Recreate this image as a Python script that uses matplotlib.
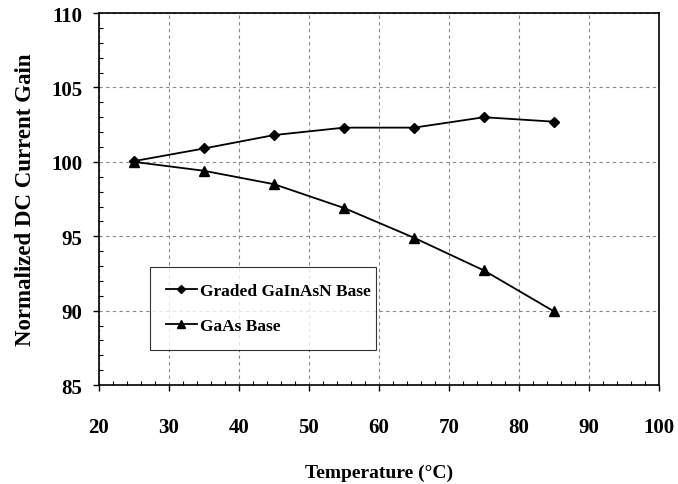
import matplotlib
matplotlib.use("Agg")
import matplotlib.pyplot as plt
from matplotlib.ticker import MultipleLocator

temps = [25, 35, 45, 55, 65, 75, 85]
graded = [100.05, 100.9, 101.8, 102.3, 102.3, 103.0, 102.7]
gaas = [100.0, 99.4, 98.5, 96.9, 94.9, 92.7, 89.95]
series_labels = ["Graded GaInAsN Base", "GaAs Base"]
xlabel = "Temperature (°C)"
ylabel = "Normalized DC Current Gain"

plt.rcParams['font.family'] = ['Liberation Serif', 'DejaVu Serif']

fig = plt.figure(figsize=(6.78, 4.85), dpi=100)
ax = fig.add_axes([0.146, 0.204, 0.826, 0.767])

ax.plot(temps, graded, color='black', lw=1.3, marker='D', ms=5.5, label=series_labels[0])
ax.plot(temps, gaas, color='black', lw=1.3, marker='^', ms=7, label=series_labels[1])

ax.set_xlim(20, 100)
ax.set_ylim(85, 110)
ax.xaxis.set_major_locator(MultipleLocator(10))
ax.yaxis.set_major_locator(MultipleLocator(5))
ax.xaxis.set_minor_locator(MultipleLocator(2))
ax.yaxis.set_minor_locator(MultipleLocator(1))
ax.tick_params(which='major', direction='out', length=4, width=1, labelsize=15)
ax.tick_params(axis='x', which='major', pad=19)
ax.tick_params(axis='y', which='major', pad=8)
ax.tick_params(which='minor', direction='in', length=3, width=0.8)
for lab in ax.get_xticklabels() + ax.get_yticklabels():
    lab.set_fontweight('bold')

ax.grid(True, which='major', color='#888888', ls=(0, (3, 3)), lw=0.8)
for s in ax.spines.values():
    s.set_linewidth(1.2)

ax.set_xlabel(xlabel, fontsize=14, fontweight='bold', labelpad=19)
ax.set_ylabel(ylabel, fontsize=16.5, fontweight='bold', labelpad=11)

leg = ax.legend(loc='lower left', bbox_to_anchor=(0.091, 0.094, 0.404, 0.223),
                mode='expand', frameon=True, fancybox=False, edgecolor='black',
                prop={'weight': 'bold', 'size': 12.5}, handlelength=1.8,
                handletextpad=0.2, labelspacing=1.1, borderpad=0.9, markerscale=0.8,
                borderaxespad=0)
leg.get_frame().set_linewidth(0.8)

fig.savefig("out.png", dpi=100)
